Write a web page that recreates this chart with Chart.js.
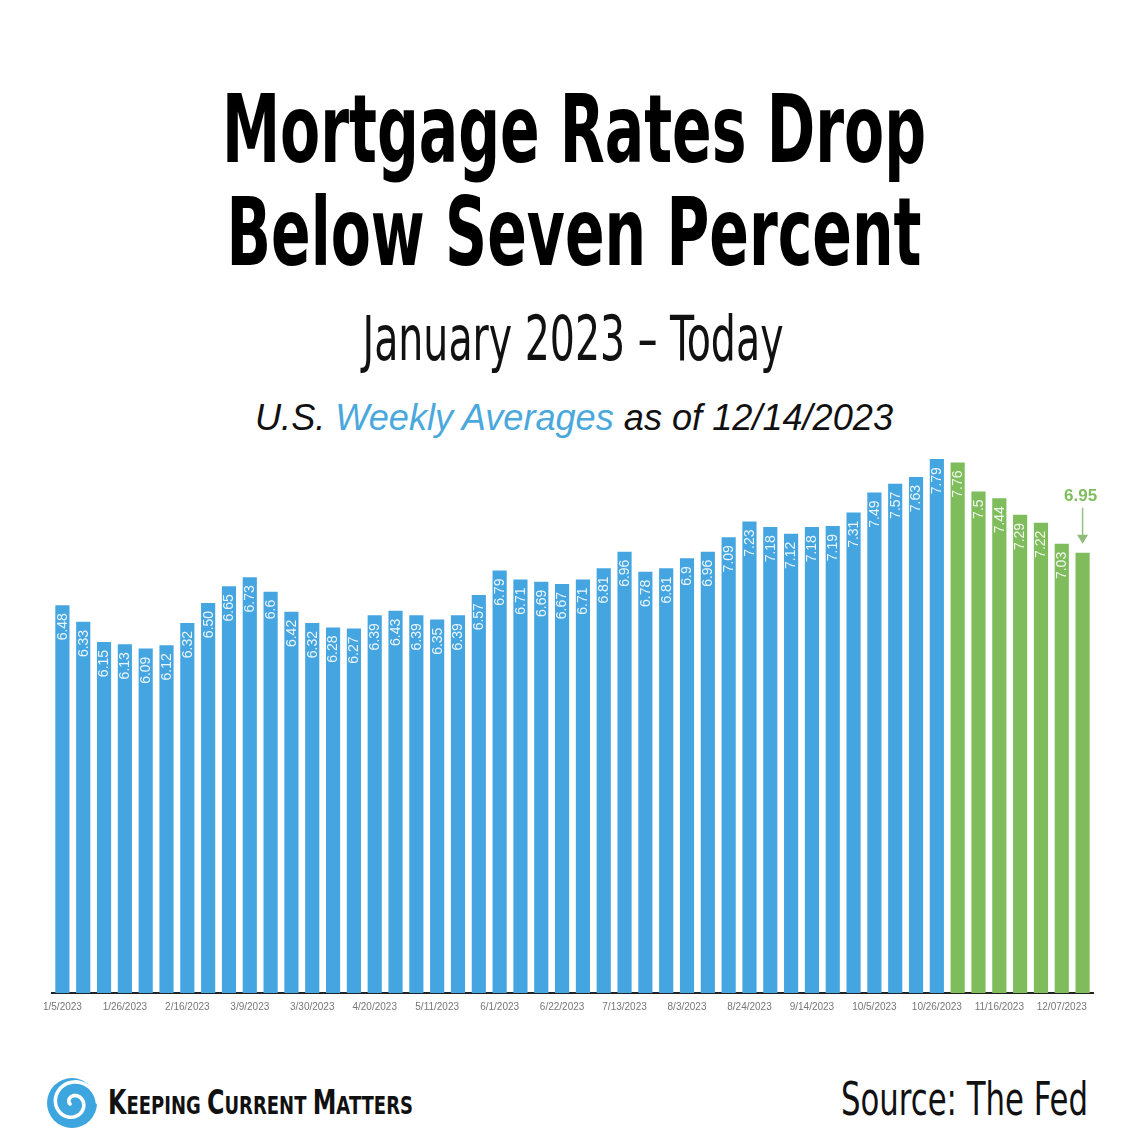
<!DOCTYPE html>
<html>
<head>
<meta charset="utf-8">
<script src="https://cdn.jsdelivr.net/npm/chart.js@4.4.1/dist/chart.umd.min.js"></script>
<style>
  html, body { margin: 0; padding: 0; background: #ffffff; }
  #wrap { position: relative; width: 1144px; height: 1142px; overflow: hidden; background: #fff; }
  #txt { position: absolute; left: 0; top: 0; width: 1144px; height: 1142px; }
  #chartBox { position: absolute; left: 0; top: 440px; width: 1144px; height: 600px; }
</style>
</head>
<body>
<div id="wrap">
  <svg id="txt" width="1144" height="1142" xmlns="http://www.w3.org/2000/svg">
    <text x="574" y="162" text-anchor="middle" textLength="704" lengthAdjust="spacingAndGlyphs"
      font-family="'Liberation Sans Narrow','DejaVu Sans Condensed','Liberation Sans',sans-serif" font-weight="bold" font-size="95" fill="#000">Mortgage Rates Drop</text>
    <text x="574" y="265" text-anchor="middle" textLength="695" lengthAdjust="spacingAndGlyphs"
      font-family="'Liberation Sans Narrow','DejaVu Sans Condensed','Liberation Sans',sans-serif" font-weight="bold" font-size="95" fill="#000">Below Seven Percent</text>
    <text x="573" y="360" text-anchor="middle" textLength="421" lengthAdjust="spacingAndGlyphs"
      font-family="'Liberation Sans Narrow','DejaVu Sans Condensed','Liberation Sans',sans-serif" font-size="62" fill="#111">January 2023 – Today</text>
    <text x="574" y="430" text-anchor="middle" textLength="638" lengthAdjust="spacingAndGlyphs"
      font-family="'Liberation Sans',Arial,sans-serif" font-style="italic" font-size="36" fill="#111">U.S. <tspan fill="#4aa8dc">Weekly Averages</tspan> as of 12/14/2023</text>

    <circle cx="72" cy="1103" r="25" fill="#3ea6de"/>
    <path id="swirl" d="" fill="none" stroke="#fff" stroke-width="3.6" stroke-linecap="round"/>
    <text x="108" y="1114" textLength="305" lengthAdjust="spacingAndGlyphs"
      font-family="'DejaVu Sans',Verdana,sans-serif" font-weight="bold" fill="#111"><tspan font-size="33">K</tspan><tspan font-size="25">EEPING </tspan><tspan font-size="33">C</tspan><tspan font-size="25">URRENT </tspan><tspan font-size="33">M</tspan><tspan font-size="25">ATTERS</tspan></text>
    <text x="841" y="1115" textLength="247" lengthAdjust="spacingAndGlyphs"
      font-family="'Liberation Sans Narrow','DejaVu Sans Condensed','Liberation Sans',sans-serif" font-size="47" fill="#111">Source: The Fed</text>
  </svg>
  <div id="chartBox"><canvas id="c" width="1144" height="600"></canvas></div>
</div>
<script>
// ---- data ----
const dates = ["1/5/2023","1/12/2023","1/19/2023","1/26/2023","2/2/2023","2/9/2023","2/16/2023","2/23/2023",
  "3/2/2023","3/9/2023","3/16/2023","3/23/2023","3/30/2023","4/6/2023","4/13/2023","4/20/2023","4/27/2023",
  "5/4/2023","5/11/2023","5/18/2023","5/25/2023","6/1/2023","6/8/2023","6/15/2023","6/22/2023","6/29/2023",
  "7/6/2023","7/13/2023","7/20/2023","7/27/2023","8/3/2023","8/10/2023","8/17/2023","8/24/2023","8/31/2023",
  "9/7/2023","9/14/2023","9/21/2023","9/28/2023","10/5/2023","10/12/2023","10/19/2023","10/26/2023",
  "11/2/2023","11/9/2023","11/16/2023","11/23/2023","11/30/2023","12/07/2023","12/14/2023"];
const rates = [6.48,6.33,6.15,6.13,6.09,6.12,6.32,6.50,6.65,6.73,6.6,6.42,6.32,6.28,6.27,6.39,6.43,6.39,6.35,6.39,
  6.57,6.79,6.71,6.69,6.67,6.71,6.81,6.96,6.78,6.81,6.9,6.96,7.09,7.23,7.18,7.12,7.18,7.19,7.31,7.49,7.57,7.63,7.79,
  7.76,7.5,7.44,7.29,7.22,7.03,6.95];
const rateLabels = ["6.48","6.33","6.15","6.13","6.09","6.12","6.32","6.50","6.65","6.73","6.6","6.42","6.32","6.28",
  "6.27","6.39","6.43","6.39","6.35","6.39","6.57","6.79","6.71","6.69","6.67","6.71","6.81","6.96","6.78","6.81",
  "6.9","6.96","7.09","7.23","7.18","7.12","7.18","7.19","7.31","7.49","7.57","7.63","7.79","7.76","7.5","7.44",
  "7.29","7.22","7.03",""];
const firstGreenDate = "11/2/2023";
const calloutLabel = "6.95";
const yMin = 3, yMax = 7.8;
const tickEvery = 3;

const BLUE = "#44a5e0", GREEN = "#7fbd5c";
const greenStart = dates.indexOf(firstGreenDate);

// logo swirl (decorative)
(function () {
  const cx = 73, cy = 1103;
  let d = '';
  for (let t = 0; t <= 3.1 * Math.PI; t += 0.1) {
    const r = 3 + 2.2 * t;
    const a = t + Math.PI * 0.9;
    const px = cx + r * Math.cos(a), py = cy + r * Math.sin(a);
    d += (d ? ' L' : 'M') + px.toFixed(1) + ',' + py.toFixed(1);
  }
  document.getElementById('swirl').setAttribute('d', d);
})();

const barLabelPlugin = {
  id: 'barLabels',
  afterDatasetsDraw(chart) {
    const ctx = chart.ctx;
    const meta = chart.getDatasetMeta(0);
    ctx.save();
    ctx.font = '14px "Liberation Sans", Arial, sans-serif';
    ctx.fillStyle = 'rgba(255,255,255,0.9)';
    ctx.textAlign = 'right';
    ctx.textBaseline = 'middle';
    meta.data.forEach((bar, i) => {
      const lbl = rateLabels[i];
      if (!lbl) return;
      ctx.save();
      ctx.translate(bar.x + 0.5, bar.y + 8);
      ctx.rotate(-Math.PI / 2);
      ctx.fillText(lbl, 0, 0);
      ctx.restore();
    });
    // callout for last bar
    const last = meta.data[meta.data.length - 1];
    const x = last.x;
    const top = last.y;
    ctx.fillStyle = GREEN;
    ctx.font = 'bold 17px "Liberation Sans", Arial, sans-serif';
    ctx.textAlign = 'center';
    ctx.textBaseline = 'alphabetic';
    ctx.fillText(calloutLabel, x - 2, top - 52);
    ctx.strokeStyle = '#97bf85';
    ctx.lineWidth = 1.5;
    ctx.beginPath();
    ctx.moveTo(x, top - 45);
    ctx.lineTo(x, top - 14);
    ctx.stroke();
    ctx.fillStyle = '#8fbc7a';
    ctx.beginPath();
    ctx.moveTo(x - 5.5, top - 18);
    ctx.lineTo(x + 5.5, top - 18);
    ctx.lineTo(x, top - 9);
    ctx.closePath();
    ctx.fill();
    ctx.restore();
  }
};

new Chart(document.getElementById('c'), {
  type: 'bar',
  data: {
    labels: dates,
    datasets: [{
      data: rates,
      backgroundColor: (c) => c.dataIndex >= greenStart ? GREEN : BLUE,
      borderWidth: 0,
      barPercentage: 0.68,
      categoryPercentage: 1.0
    }]
  },
  options: {
    responsive: false,
    animation: false,
    devicePixelRatio: 1,
    layout: { padding: { left: 52, right: 51, top: 18, bottom: 17 } },
    plugins: { legend: { display: false }, tooltip: { enabled: false } },
    scales: {
      y: { display: false, min: yMin, max: yMax },
      x: {
        grid: { display: false, drawTicks: false },
        border: { display: true, color: '#222', width: 2 },
        afterFit: (s) => { s.height = 30; },
        ticks: {
          autoSkip: false, maxRotation: 0, minRotation: 0, padding: 8,
          color: '#777',
          font: { size: 10, family: '"Liberation Sans", Arial, sans-serif' },
          callback: (v, i) => (i % tickEvery === 0 ? dates[i] : '')
        }
      }
    }
  },
  plugins: [barLabelPlugin]
});
</script>
</body>
</html>
